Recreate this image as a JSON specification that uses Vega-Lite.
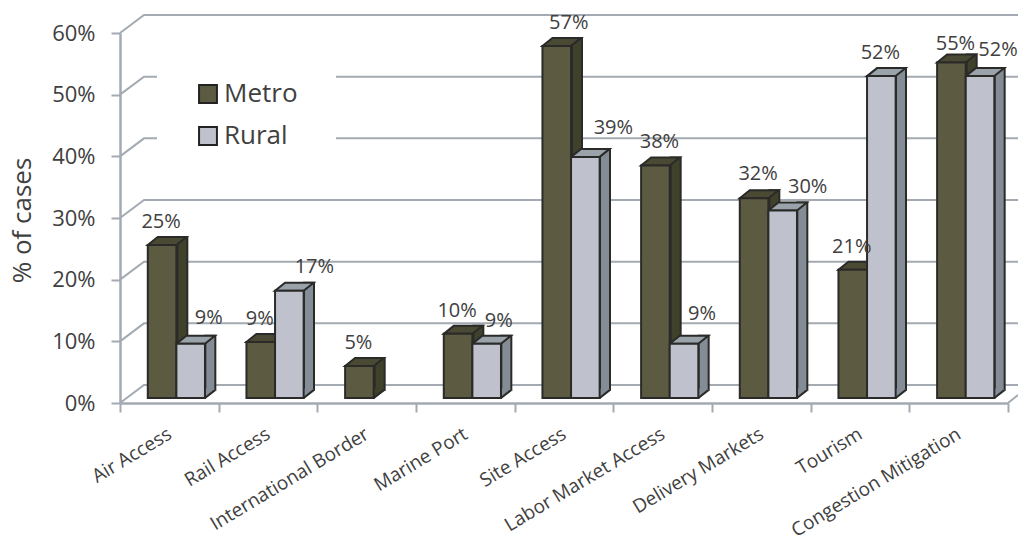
{
"$schema":"https://vega.github.io/schema/vega-lite/v6.json",
"width":888,"height":370,
"autosize":"none",
"padding":{"left":120,"top":33,"right":10,"bottom":143},
"background":"white",
"config":{"view":{"stroke":null},"font":"Open Sans"},
"datasets":{"grid":[{"g":0},{"g":10},{"g":20},{"g":30},{"g":40},{"g":50},{"g":60}],
"bars":[
{"category":"Air Access","series":"Metro","value":24.8,"label":"25%"},
{"category":"Air Access","series":"Rural","value":8.8,"label":"9%"},
{"category":"Rail Access","series":"Metro","value":9.1,"label":"9%"},
{"category":"Rail Access","series":"Rural","value":17.4,"label":"17%"},
{"category":"International Border","series":"Metro","value":5.2,"label":"5%"},
{"category":"Marine Port","series":"Metro","value":10.4,"label":"10%"},
{"category":"Marine Port","series":"Rural","value":8.8,"label":"9%"},
{"category":"Site Access","series":"Metro","value":57.1,"label":"57%"},
{"category":"Site Access","series":"Rural","value":39.1,"label":"39%"},
{"category":"Labor Market Access","series":"Metro","value":37.7,"label":"38%"},
{"category":"Labor Market Access","series":"Rural","value":8.8,"label":"9%"},
{"category":"Delivery Markets","series":"Metro","value":32.4,"label":"32%"},
{"category":"Delivery Markets","series":"Rural","value":30.4,"label":"30%"},
{"category":"Tourism","series":"Metro","value":20.8,"label":"21%"},
{"category":"Tourism","series":"Rural","value":52.2,"label":"52%"},
{"category":"Congestion Mitigation","series":"Metro","value":54.4,"label":"55%"},
{"category":"Congestion Mitigation","series":"Rural","value":52.2,"label":"52%"}
]},
"data":{"name":"bars"},
"layer":[
{"data":{"name":"grid"},
 "mark":{"type":"point","shape":"M0,0 L24,-18 L900,-18","size":4,"filled":false,"stroke":"#a3aab2","strokeWidth":2,"opacity":1},
 "encoding":{"x":{"value":0},"y":{"field":"g","type":"quantitative","scale":{"domain":[0,60]},
   "axis":{"values":[0,10,20,30,40,50,60],"labelExpr":"datum.value + '%'","title":"% of cases","titleFontSize":26,"titleFontWeight":"normal","titleColor":"#404040","titleFont":"Open Sans","titleX":-85,"titleY":187,"labelFontSize":22,"labelColor":"#404040","labelFont":"Open Sans","labelPadding":16,"grid":false,"domainColor":"#a3aab2","domainWidth":2.5,"tickColor":"#a3aab2","tickWidth":2,"tickSize":9}}}},
{"encoding":{
  "x":{"field":"category","type":"nominal","sort":null,"title":null,
    "scale":{"paddingInner":0,"paddingOuter":0},
    "axis":{"labelAngle":-31,"labelAlign":"right","labelBaseline":"middle","labelFontSize":19,"labelColor":"#404040","labelFont":"Open Sans","labelPadding":20,"labelLimit":300,"domainColor":"#a3aab2","domainWidth":2.5,"tickColor":"#a3aab2","tickWidth":2,"tickSize":9,"tickBand":"extent"}},
  "y":{"field":"value","type":"quantitative","title":"% of cases"}
 },
 "layer":[
 {"transform":[{"filter":"datum.series=='Metro'"}],
  "mark":{"type":"bar","size":10,"xOffset":13,"yOffset":-13,"y2Offset":-13,"stroke":"#2a2a28","strokeWidth":2,"color":"#3f412b"}},
 {"transform":[{"filter":"datum.series=='Rural'"}],
  "mark":{"type":"bar","size":10,"xOffset":41,"yOffset":-13,"y2Offset":-13,"stroke":"#2a2a28","strokeWidth":2,"color":"#848d96"}},
 {"encoding":{"xOffset":{"field":"series","type":"nominal","scale":{"paddingInner":0,"paddingOuter":0.725,"align":0.67}}},
  "layer":[
  {"mark":{"type":"point","shape":"M14.3,1 L25.2,-7 L23.5,-9.5 L14.3,-9.5 Z","size":4,"filled":true,"opacity":1,"yOffset":-5},
   "encoding":{"y":{"datum":0},"color":{"condition":{"test":"datum.series=='Metro'","value":"#3f412b"},"value":"#848d96"}}},
  {"mark":{"type":"point","shape":"M14.3,0 L24.3,-8","size":4,"filled":false,"opacity":1,"yOffset":-5,"stroke":"#2a2a28","strokeWidth":2},
   "encoding":{"y":{"datum":0}}},
  {"mark":{"type":"point","shape":"M-14.3,0 L14.3,0 L24.3,-8 L-4.3,-8 Z","size":4,"filled":true,"opacity":1,"yOffset":-5,"stroke":"#2a2a28","strokeWidth":2},
   "encoding":{"color":{"condition":{"test":"datum.series=='Metro'","value":"#4a4a34"},"value":"#9aa2aa"}}},
  {"mark":{"type":"bar","yOffset":-5,"y2Offset":-5,"stroke":"#2a2a28","strokeWidth":2},
   "encoding":{"color":{"field":"series","type":"nominal","scale":{"domain":["Metro","Rural"],"range":["#5c5b42","#bfc2cc"]},
    "legend":{"title":null,"orient":"none","legendX":37,"legendY":10,"padding":38,"fillColor":"white","symbolType":"square","symbolSize":320,"symbolStrokeColor":"#222","symbolStrokeWidth":2,"symbolOpacity":1,"labelFontSize":26,"labelColor":"#404040","labelFont":"Open Sans","rowPadding":16,"labelOffset":3}}}},
  {"transform":[{"filter":"(datum.series=='Metro' && indexof(['Air Access','Rail Access','International Border','Marine Port','Tourism'],datum.category)>=0) || (datum.series=='Rural' && datum.category=='Tourism')"}],
   "mark":{"type":"text","fontSize":20,"color":"#404040","dx":-1,"dy":-28},"encoding":{"text":{"field":"label"}}},
  {"transform":[{"filter":"datum.series=='Metro' && (datum.category=='Labor Market Access' || datum.category=='Delivery Markets')"}],
   "mark":{"type":"text","fontSize":20,"color":"#404040","dx":4,"dy":-29},"encoding":{"text":{"field":"label"}}},
  {"transform":[{"filter":"datum.series=='Metro' && datum.category=='Congestion Mitigation'"}],
   "mark":{"type":"text","fontSize":20,"color":"#404040","dx":4,"dy":-24},"encoding":{"text":{"field":"label"}}},
  {"transform":[{"filter":"(datum.series=='Metro' && datum.category=='Site Access') || (datum.series=='Rural' && datum.category=='Marine Port')"}],
   "mark":{"type":"text","fontSize":20,"color":"#404040","dx":12,"dy":-28},"encoding":{"text":{"field":"label"}}},
  {"transform":[{"filter":"datum.series=='Rural' && (datum.category=='Air Access' || datum.category=='Congestion Mitigation')"}],
   "mark":{"type":"text","fontSize":20,"color":"#404040","dx":18,"dy":-31},"encoding":{"text":{"field":"label"}}},
  {"transform":[{"filter":"datum.series=='Rural' && datum.category=='Labor Market Access'"}],
   "mark":{"type":"text","fontSize":20,"color":"#404040","dx":18,"dy":-35},"encoding":{"text":{"field":"label"}}},
  {"transform":[{"filter":"datum.series=='Rural' && (datum.category=='Rail Access' || datum.category=='Delivery Markets')"}],
   "mark":{"type":"text","fontSize":20,"color":"#404040","dx":25,"dy":-29},"encoding":{"text":{"field":"label"}}},
  {"transform":[{"filter":"datum.series=='Rural' && datum.category=='Site Access'"}],
   "mark":{"type":"text","fontSize":20,"color":"#404040","dx":28,"dy":-34},"encoding":{"text":{"field":"label"}}}
  ]}
 ]},
{"data":{"values":[{"g":0}]},
 "mark":{"type":"point","shape":"M0,0 L10,-8","size":4,"filled":false,"stroke":"#a3aab2","strokeWidth":2,"opacity":1},
 "encoding":{"x":{"value":888},"y":{"field":"g","type":"quantitative","title":"% of cases"}}}
]
}
